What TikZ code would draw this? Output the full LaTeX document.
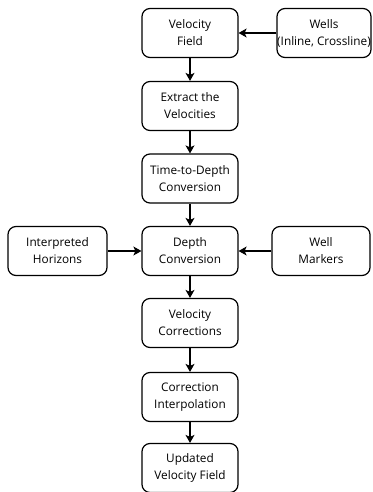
\documentclass[tikz,border=0pt]{standalone}
\usepackage{fontspec}
\setmainfont{Open Sans}
\usetikzlibrary{arrows.meta}
\begin{document}
\begin{tikzpicture}[x=1pt,y=-1pt,
  box/.style={draw, line width=1.2pt, rounded corners=8pt, minimum width=96pt, minimum height=49pt, align=center, inner sep=0pt, font=\fontsize{11.8}{17}\selectfont},
  arr/.style={line width=1.2pt, -{Stealth[length=8pt,width=9pt,inset=2pt]}}]
\useasboundingbox (0,0) rectangle (372,492);
\node[box] (vf) at (190,33) {Velocity\\Field};
\node[box, minimum width=94pt] (wells) at (324,33) {Wells\\(Inline, Crossline)};
\node[box] (ex) at (190,106) {Extract the\\Velocities};
\node[box] (td) at (190,178.5) {Time-to-Depth\\Conversion};
\node[box] (dc) at (190,251) {Depth\\Conversion};
\node[box, minimum width=99pt] (ih) at (57.5,251) {Interpreted\\Horizons};
\node[box, minimum width=98pt] (wm) at (321,251) {Well\\Markers};
\node[box] (vc) at (190,323) {Velocity\\Corrections};
\node[box] (ci) at (190,397) {Correction\\Interpolation};
\node[box] (uv) at (190,468) {Updated\\Velocity Field};
\draw[arr] (wells) -- (vf);
\draw[arr] (vf) -- (ex);
\draw[arr] (ex) -- (td);
\draw[arr] (td) -- (dc);
\draw[arr] (ih) -- (dc);
\draw[arr] (wm) -- (dc);
\draw[arr] (dc) -- (vc);
\draw[arr] (vc) -- (ci);
\draw[arr] (ci) -- (uv);
\end{tikzpicture}
\end{document}
